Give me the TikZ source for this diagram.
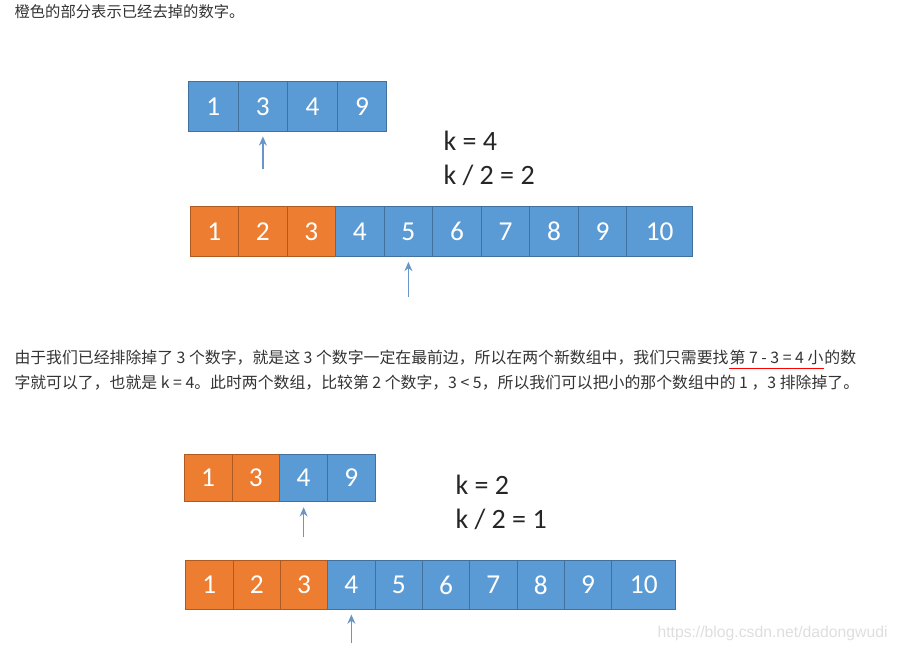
\documentclass[tikz,border=0pt]{standalone}
\usepackage{fontspec}
\setmainfont{Carlito}
\newfontfamily\cjkfont{Noto Sans CJK SC}
\newfontfamily\wmfont{Liberation Sans}
\usetikzlibrary{positioning,arrows.meta}
\definecolor{cellblue}{RGB}{91,155,213}
\definecolor{edgeblue}{RGB}{65,113,156}
\definecolor{cellorange}{RGB}{237,125,49}
\definecolor{edgeorange}{RGB}{174,90,33}
\definecolor{ptrblue}{RGB}{104,150,200}
\definecolor{bodytext}{RGB}{51,51,51}
\tikzset{every picture/.style={line width=0.75pt}}

\begin{document}
\begin{tikzpicture}[x=0.75pt,y=0.75pt,yscale=-1,xscale=1,
  cell/.style={draw=edgeblue, fill=cellblue, text=white, inner sep=0pt, outer sep=0pt, font=\fontsize{20.5}{24}\selectfont},
  gone/.style={cell, draw=edgeorange, fill=cellorange},
  rowa/.style={minimum width=37.2pt, minimum height=36.8pt},
  rowb/.style={minimum width=36.4pt, minimum height=37.5pt},
  rowc/.style={minimum width=35.8pt, minimum height=35.8pt},
  rowd/.style={minimum width=35.5pt, minimum height=36.2pt},
  ptr/.style={draw=ptrblue, line width=1pt, -{Stealth[length=7pt, width=6pt]}, shorten >=4pt},
  ktext/.style={anchor=west, align=left, inner sep=0pt, text=black!85, font=\fontsize{21}{25.5}\selectfont},
  para/.style={inner sep=0pt, text=bodytext, font=\cjkfont\fontsize{11.9}{14}\selectfont}]
\useasboundingbox (0,0) rectangle (898,652);

% caption
\node[para, anchor=west, font=\cjkfont\fontsize{11.5}{14}\selectfont] (cap) at (14,12) {橙色的部分表示已经去掉的数字。};

% first step: short array
\node[cell, rowa, anchor=west] (a1) at (188.5,106.5) {1};
\node[cell, rowa, right=0pt of a1] (a2) {3};
\node[cell, rowa, right=0pt of a2] (a3) {4};
\node[cell, rowa, right=0pt of a3] (a4) {9};
\coordinate[below=28.5pt of a2] (ta);
\draw[ptr] (ta) -- (a2);
\node[ktext] (ka) at (443,158) {k = 4\\k / 2 = 2};

% first step: long array
\node[gone, rowb, anchor=west] (b1) at (190,231.5) {1};
\node[gone, rowb, right=0pt of b1] (b2) {2};
\node[gone, rowb, right=0pt of b2] (b3) {3};
\node[cell, rowb, right=0pt of b3] (b4) {4};
\node[cell, rowb, right=0pt of b4] (b5) {5};
\node[cell, rowb, right=0pt of b5] (b6) {6};
\node[cell, rowb, right=0pt of b6] (b7) {7};
\node[cell, rowb, right=0pt of b7] (b8) {8};
\node[cell, rowb, right=0pt of b8] (b9) {9};
\node[cell, rowb, minimum width=49.3pt, right=0pt of b9] (b10) {10};
\coordinate[below=30pt of b5] (tb);
\draw[ptr] (tb) -- (b5);

% explanation
\node[para, anchor=west] (l1a) at (14,358) {由于我们已经排除掉了 3 个数字，就是这 3 个数字一定在最前边，所以在两个新数组中，我们只需要找};
\node[para, anchor=base west] (l1b) at (l1a.base east) {第 7 - 3 = 4 小};
\node[para, anchor=base west] (l1c) at (l1b.base east) {的数};
\draw[red, line width=0.9pt] ([yshift=3.5pt]l1b.base west) -- ([yshift=3.5pt]l1b.base east);
\node[para, anchor=west] (l2) at (14,383) {字就可以了，也就是 k = 4。此时两个数组，比较第 2 个数字，3 < 5，所以我们可以把小的那个数组中的 1 ，3 排除掉了。};

% second step: short array
\node[gone, rowc, anchor=west] (c1) at (184.3,478) {1};
\node[gone, rowc, right=0pt of c1] (c2) {3};
\node[cell, rowc, right=0pt of c2] (c3) {4};
\node[cell, rowc, right=0pt of c3] (c4) {9};
\coordinate[below=26.3pt of c3] (tc);
\draw[ptr] (tc) -- (c3);
\node[ktext] (kc) at (455,502.5) {k = 2\\k / 2 = 1};

% second step: long array
\node[gone, rowd, anchor=west] (d1) at (185.7,585) {1};
\node[gone, rowd, right=0pt of d1] (d2) {2};
\node[gone, rowd, right=0pt of d2] (d3) {3};
\node[cell, rowd, right=0pt of d3] (d4) {4};
\node[cell, rowd, right=0pt of d4] (d5) {5};
\node[cell, rowd, right=0pt of d5] (d6) {6};
\node[cell, rowd, right=0pt of d6] (d7) {7};
\node[cell, rowd, right=0pt of d7] (d8) {8};
\node[cell, rowd, right=0pt of d8] (d9) {9};
\node[cell, rowd, minimum width=48.2pt, right=0pt of d9] (d10) {10};
\coordinate[below=25.5pt of d4] (td);
\draw[ptr] (td) -- (d4);

% watermark
\node[anchor=west, inner sep=0pt, text=black!13, font=\wmfont\fontsize{11.8}{13}\selectfont] (wm) at (657,633) {https://blog.csdn.net/dadongwudi};

\end{tikzpicture}
\end{document}
